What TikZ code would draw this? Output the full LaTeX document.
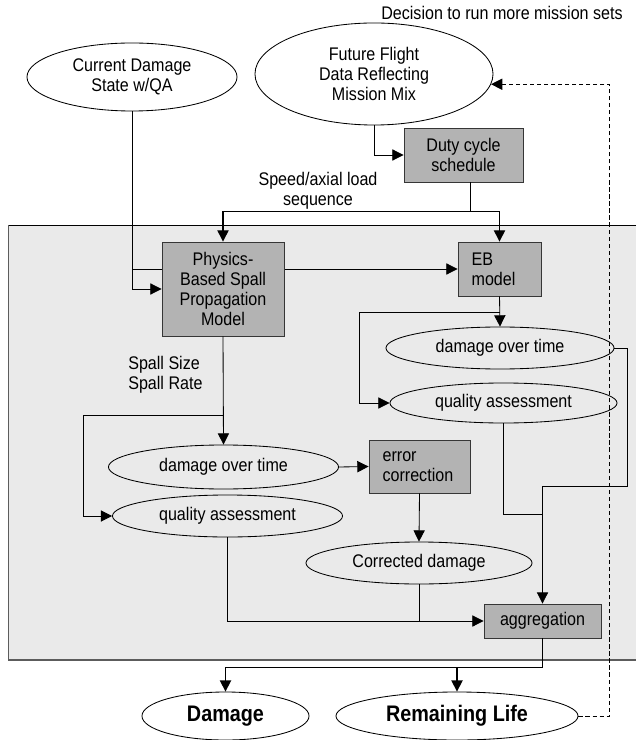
\documentclass[tikz,border=0pt]{standalone}
\usepackage{fontspec}
\setmainfont{Liberation Sans}[FakeStretch=0.88]
\usepackage{tikz}
\usetikzlibrary{arrows.meta,positioning,shapes.geometric,calc,backgrounds}
\definecolor{boxgray}{HTML}{B3B3B3}
\definecolor{panelgray}{HTML}{EAEAEA}
\definecolor{bk90}{HTML}{363636}
\definecolor{bk70}{HTML}{5C5C5C}
\tikzset{
  procbox/.style={
    rectangle, draw=bk90, fill=boxgray, line width=0.6pt,
    font=\fontsize{13}{14.2}\selectfont, align=center,
    inner sep=0pt
  },
  notebox/.style={
    procbox, align=left, inner xsep=0.34cm, text width=#1
  },
  notebox/.default=1.4cm,
  dataoval/.style={
    ellipse, draw=black, line width=0.6pt,
    font=\fontsize{13}{14.2}\selectfont, align=center,
    inner sep=0pt
  },
  outoval/.style={
    dataoval, font=\fontsize{16}{18}\selectfont\bfseries
  },
  flowarrow/.style={
    -{Triangle[length=8pt,width=8pt]}, line width=#1, color=black
  },
  flowarrow/.default=0.6pt,
  flowline/.style={
    line width=#1, color=black
  },
  flowline/.default=0.6pt,
  feedarrow/.style={
    -{Triangle[length=8pt,width=8pt]}, line width=0.6pt,
    dash pattern=on 3pt off 2pt
  },
  labelnode/.style={
    font=\fontsize{13}{14.2}\selectfont, align=center, inner sep=0pt
  },
}
\begin{document}
\begin{tikzpicture}[x=0.025cm, y=-0.025cm]
\useasboundingbox (0,0) rectangle (636,740);

% Inputs on top
\node[dataoval, minimum width=5.25cm, minimum height=1.7cm] (state) at (132,77) {Current Damage\\State w/QA};
\node[dataoval, minimum width=5.95cm, minimum height=2.55cm] (mission) at (374,74) {Future Flight\\Data Reflecting\\Mission Mix};
\node[procbox, minimum width=2.975cm, minimum height=1.35cm] (duty) at (463.5,155) {Duty cycle\\schedule};
\node[labelnode] (decision) at (502,13) {Decision to run more mission sets};
\node[labelnode] (loadlbl) at (318,191) {Speed/axial load\\sequence};

% Shaded panel behind the models
\begin{scope}[on background layer]
  \fill[panelgray] (8,225) rectangle (636,660);
  \draw[black, line width=0.6pt] (636,225) -- (8,225);
  \draw[bk70, line width=0.6pt] (8,225) -- (8,660);
  \draw[bk70, line width=1.2pt] (8,660) -- (636,660);
\end{scope}

% Models
\node[procbox, minimum width=3.05cm, minimum height=2.35cm] (spall) at (223,289) {Physics-\\Based Spall\\Propagation\\Model};
\node[notebox=1.395cm, minimum height=1.35cm] (eb) at (499.5,269) {EB\\model};
\node[labelnode, align=left, anchor=west] (spalllbl) at (128,375) {Spall Size\\Spall Rate};

% EB branch
\node[dataoval, minimum width=5.7cm, minimum height=1.05cm] (ebdmg) at (500,348) {damage over time};
\node[dataoval, minimum width=5.675cm, minimum height=1cm] (ebqa) at (503.5,403) {quality assessment};

% Spall branch
\node[dataoval, minimum width=5.75cm, minimum height=1.1cm] (spdmg) at (223.5,467) {damage over time};
\node[dataoval, minimum width=5.75cm, minimum height=1.05cm] (spqa) at (227.5,516) {quality assessment};
\node[notebox=1.845cm, minimum height=1.325cm] (errcor) at (419.5,466.5) {error\\correction};
\node[dataoval, minimum width=5.65cm, minimum height=1.05cm] (corrdmg) at (419,563) {Corrected damage};
\node[procbox, minimum width=2.925cm, minimum height=0.85cm] (aggr) at (542.5,621) {aggregation};

% Outputs
\node[outoval, minimum width=4.175cm, minimum height=1.2cm] (dmgout) at (225.5,716) {Damage};
\node[outoval, minimum width=6.05cm, minimum height=1.2cm] (rulout) at (457,716) {Remaining Life};

% Current state into both models (EB line runs behind the spall box)
\begin{scope}[on background layer]
  \draw[flowarrow] (state.south) |- (eb.west);
\end{scope}
\draw[flowarrow] (state.south) |- (spall.west);

% Mission mix and load sequence
\draw[flowarrow] (mission.south) |- (duty.west);
\draw[flowline=0.9pt] ([xshift=0.175cm]duty.south) -- ++(0,29) coordinate (fork);
\draw[flowarrow=0.9pt] (fork) -| (spall.north);
\draw[flowarrow=0.9pt] (fork) -| (eb.north);

% Spall model outputs
\draw[flowarrow] (spall.south) -- (spdmg.north);
\draw[flowarrow] (spall.south |- 0,415) -- ++(-140,0) |- (spqa.west);
\draw[flowarrow] (spdmg.east) -- (errcor.west);
\draw[flowarrow] (errcor.south) -- (corrdmg.north);
\draw[flowarrow] (spqa.south) |- (aggr.west);
\draw[flowline] (corrdmg.south) -- (corrdmg.south |- aggr.west);

% EB model outputs
\draw[flowarrow] (eb.south) -- (ebdmg.north);
\draw[flowarrow] (eb.south |- 0,312) -- ++(-140,0) |- (ebqa.west);
\draw[flowarrow] (ebdmg.east) -- ++(13,0) |- ($(aggr.north)+(0,-117)$) -- (aggr.north);
\draw[flowline] (ebqa.south) |- (aggr.north |- 0,514);

% Aggregated results
\draw[flowline=1.1pt] (aggr.south) -- ++(0,29) coordinate (outfork);
\draw[flowarrow=1.1pt] (outfork) -| (dmgout.north);
\draw[flowarrow=1.1pt] (outfork) -| (rulout.north);

% Feedback loop
\draw[feedarrow] (rulout.east) -- ++(31,0) |- (mission.-5);

\end{tikzpicture}
\end{document}
